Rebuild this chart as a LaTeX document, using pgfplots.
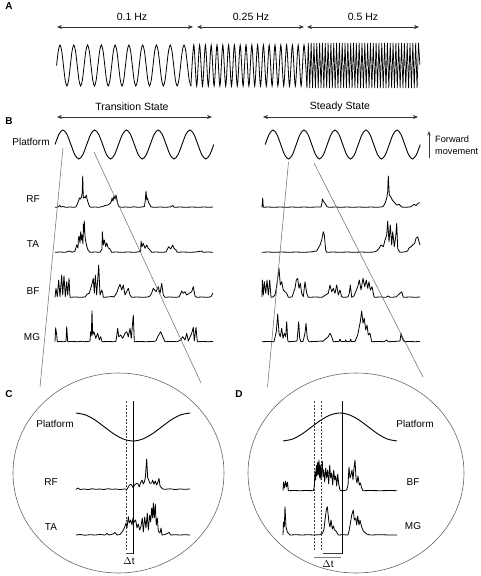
\documentclass[border=0pt]{standalone}
\usepackage{pgfplots}
\pgfplotsset{compat=1.18}
\usetikzlibrary{arrows.meta}
\usepackage{fontspec}
\setmainfont{Liberation Sans}
\begin{document}
\begin{tikzpicture}[
  txt/.style={font=\fontsize{10}{12}\selectfont, inner sep=0pt},
  big/.style={font=\fontsize{10.5}{12}\selectfont, inner sep=0pt},
  pan/.style={font=\fontsize{10}{12}\selectfont\bfseries, inner sep=0pt},
  dbl/.style={line width=0.6pt, black!80, {Stealth[length=5pt,width=4pt]}-{Stealth[length=5pt,width=4pt]}},
  emg/.style={black, line width=0.8pt, line join=round},
  zoomline/.style={black!60, line width=0.5pt},
  dsh/.style={black!75, line width=0.45pt, dash pattern=on 2pt off 1.5pt},
]
\begin{axis}[
  x=1pt, y=1pt, y dir=reverse,
  xmin=0, xmax=480, ymin=0, ymax=576,
  hide axis, clip=false, scale only axis,
]
\path (axis cs:0,0) rectangle (axis cs:480,576);

% ---------------- Panel A ----------------
\node[pan] at (axis cs:9,6) {A};
\node[big] at (axis cs:132,17) {0.1 Hz};
\node[big] at (axis cs:251,17) {0.25 Hz};
\node[big] at (axis cs:363,17) {0.5 Hz};
\draw[dbl] (axis cs:57,27) -- (axis cs:193,27);
\draw[dbl] (axis cs:197,27) -- (axis cs:304,27);
\draw[dbl] (axis cs:307,27) -- (axis cs:419,27);

\addplot[black, line width=0.8pt, smooth] coordinates {
(56.56,65.5)(58.28,51)(60.01,45)(61.73,51)(63.45,65.5)(65.17,80)(66.90,86)(68.62,80)
(70.34,65.5)(72.06,51)(73.79,45)(75.51,51)(77.23,65.5)(78.95,80)(80.68,86)(82.40,80)
(84.12,65.5)(85.84,51)(87.57,45)(89.29,51)(91.01,65.5)(92.73,80)(94.46,86)(96.18,80)
(97.90,65.5)(99.62,51)(101.35,45)(103.07,51)(104.79,65.5)(106.51,80)(108.24,86)(109.96,80)
(111.68,65.5)(113.40,51)(115.13,45)(116.85,51)(118.57,65.5)(120.29,80)(122.02,86)(123.74,80)
(125.46,65.5)(127.18,51)(128.91,45)(130.63,51)(132.35,65.5)(134.07,80)(135.80,86)(137.52,80)
(139.24,65.5)(140.96,51)(142.69,45)(144.41,51)(146.13,65.5)(147.85,80)(149.58,86)(151.30,80)
(153.02,65.5)(154.74,51)(156.47,45)(158.19,51)(159.91,65.5)(161.63,80)(163.36,86)(165.08,80)
(166.80,65.5)(168.52,51)(170.25,45)(171.97,51)(173.69,65.5)(175.41,80)(177.14,86)(178.86,80)
(180.58,65.5)(182.30,51)(184.03,45)(185.75,51)(187.47,65.5)(189.19,80)(190.92,86)
};
\addplot[black, line width=0.8pt, smooth] coordinates {
(190.9,86)(193.8,45)(196.7,86)(199.6,45)(202.5,86)(205.4,45)(208.3,86)(211.2,45)(214.1,86)(217.0,45)
(219.9,86)(222.8,45)(225.7,86)(228.6,45)(231.5,86)(234.4,45)(237.3,86)(240.2,45)(243.1,86)(246.0,45)
(248.9,86)(251.8,45)(254.7,86)(257.6,45)(260.5,86)(263.4,45)(266.3,86)(269.2,45)(272.1,86)(275.0,45)
(277.9,86)(280.8,45)(283.7,86)(286.6,45)(289.5,86)(292.4,45)(295.3,86)(298.2,45)(301.1,86)(304.0,45)
(306.9,86)
};
\addplot[black, line width=0.7pt] coordinates {
(306.90,88)(308.31,43)(309.73,88)(311.14,43)(312.55,88)(313.96,43)(315.38,88)(316.79,43)(318.20,88)(319.61,43)
(321.03,88)(322.44,43)(323.85,88)(325.26,43)(326.68,88)(328.09,43)(329.50,88)(330.91,43)(332.33,88)(333.74,43)
(335.15,88)(336.56,43)(337.98,88)(339.39,43)(340.80,88)(342.21,43)(343.63,88)(345.04,43)(346.45,88)(347.86,43)
(349.28,88)(350.69,43)(352.10,88)(353.51,43)(354.93,88)(356.34,43)(357.75,88)(359.16,43)(360.58,88)(361.99,43)
(363.40,88)(364.81,43)(366.23,88)(367.64,43)(369.05,88)(370.46,43)(371.88,88)(373.29,43)(374.70,88)(376.11,43)
(377.53,88)(378.94,43)(380.35,88)(381.76,43)(383.18,88)(384.59,43)(386.00,88)(387.41,43)(388.83,88)(390.24,43)
(391.65,88)(393.06,43)(394.48,88)(395.89,43)(397.30,88)(398.71,43)(400.13,88)(401.54,43)(402.95,88)(404.36,43)
(405.78,88)(407.19,43)(408.60,88)(410.01,43)(411.43,88)(412.84,43)(414.25,88)(415.66,43)(417.08,88)(418.49,43)
(419.90,65)
};

% ---------------- Panel B ----------------
\node[pan] at (axis cs:9,121) {B};
\node[big] at (axis cs:132,107) {Transition State};
\node[big] at (axis cs:340,107) {Steady State};
\draw[dbl] (axis cs:57,117) -- (axis cs:212,117);
\draw[dbl] (axis cs:263,117) -- (axis cs:418,117);
\node[txt] at (axis cs:31,142) {Platform};
\node[txt] at (axis cs:33,199) {RF};
\node[txt] at (axis cs:33,244) {TA};
\node[txt] at (axis cs:33,291) {BF};
\node[txt] at (axis cs:32,337) {MG};
\draw[black!75, line width=0.6pt, -{Stealth[length=4.5pt,width=3.5pt]}] (axis cs:429,158) -- (axis cs:429,131);
\node[font=\fontsize{9.2}{11}\selectfont, inner sep=0pt, anchor=west] at (axis cs:435,139) {Forward};
\node[font=\fontsize{9.2}{11}\selectfont, inner sep=0pt, anchor=west] at (axis cs:435,152) {movement};

% platform sines
\addplot[black, line width=0.9pt, smooth] coordinates {
(55.00,144.5)(58.97,134.25)(62.94,130)(66.91,134.25)(70.88,144.5)(74.84,154.75)(78.81,159)(82.78,154.75)
(86.75,144.5)(90.72,134.25)(94.69,130)(98.66,134.25)(102.63,144.5)(106.59,154.75)(110.56,159)(114.53,154.75)
(118.50,144.5)(122.47,134.25)(126.44,130)(130.41,134.25)(134.38,144.5)(138.34,154.75)(142.31,159)(146.28,154.75)
(150.25,144.5)(154.22,134.25)(158.19,130)(162.16,134.25)(166.13,144.5)(170.09,154.75)(174.06,159)(178.03,154.75)
(182.00,144.5)(185.97,134.25)(189.94,130)(193.91,134.25)(197.88,144.5)(201.84,154.75)(205.81,159)(209.78,154.75)
(213.75,144.5)
};
\addplot[black, line width=0.9pt, smooth] coordinates {
(265.25,144.5)(269.13,134.25)(273.00,130)(276.88,134.25)(280.75,144.5)(284.63,154.75)(288.50,159)(292.38,154.75)
(296.25,144.5)(300.13,134.25)(304.00,130)(307.88,134.25)(311.75,144.5)(315.63,154.75)(319.50,159)(323.38,154.75)
(327.25,144.5)(331.13,134.25)(335.00,130)(338.88,134.25)(342.75,144.5)(346.63,154.75)(350.50,159)(354.38,154.75)
(358.25,144.5)(362.13,134.25)(366.00,130)(369.88,134.25)(373.75,144.5)(377.63,154.75)(381.50,159)(385.38,154.75)
(389.25,144.5)(393.13,134.25)(397.00,130)(400.88,134.25)(404.75,144.5)(408.63,154.75)(412.50,159)(416.38,154.75)
(420.25,144.5)
};

% left RF
\addplot[emg] coordinates {
(55,207.3)(58,207)(60,205.5)(61,207)(63,206.5)(66,207.3)(70,207)(74,207.3)(76,206.8)(77.3,204)(78.5,201)(79.5,198)(80.5,199)(81.5,197)(82.2,193)(82.7,176)(83.3,198)(84.3,197)(85.3,198)(86.3,195)(87,199)(88.3,203)(89.5,206.5)(91,207.3)(95,207)(99,207.3)(102.7,206.5)(105,205.5)(108,205)(110,203.5)(111.5,201)(112,198)(113,201)(114,196)(115,199)(116,195)(117,200)(117.8,204)(119,206.8)(122,207.3)(126,207)(130,207.3)(134,206.8)(138,207.3)(142,207)(144.5,206.5)(145.3,200)(146,191)(146.8,200)(147.5,198)(148.5,202.5)(150,205)(151,207)(155,207.3)(160,207)(165,207.3)(170,207)(173,205.5)(174,207.3)(180,207)(186,207.3)(192,207)(198,207.3)(204,207)(209,207.3)(213,207)
};
% left TA
\addplot[emg] coordinates {
(55,252.3)(60,252)(65,252.3)(70,251)(72,252.3)(74,251.5)(75,251)(76.7,245)(78,248)(78.3,240)(79,236)(80,243)(80.7,231.7)(81.5,240)(82,235)(83,244)(83.3,224)(84,232)(84.3,221)(85,236)(85.5,240)(86.7,246)(88,250)(90,252.3)(95,252)(100,252.3)(102,249)(102.3,231.7)(103.3,245)(104.3,240)(105.7,246.7)(106.7,243)(108.3,248)(110,249)(111.7,252.3)(116,252)(122,252.3)(128,252)(134,252.3)(138,252)(140.7,251)(141,241)(142,246.7)(143.3,243.3)(145,248.3)(146.7,245)(148.3,248.3)(150,250)(151.7,252.3)(156,252)(162,252.3)(166,252)(168.7,246.7)(170.7,249)(172.7,245)(174,248.3)(176,250)(177.3,252.3)(183,252)(190,252.3)(196,252)(201.7,251)(203,252.3)(208,252)(213,252.3)
};
% left BF
\addplot[emg] coordinates {
(55,297.3)(56,288.3)(57.3,296.7)(58.7,280)(60,296.7)(61.7,275)(62.7,295)(64,275.7)(65.3,296.7)(66.7,281.7)(67.7,295)(69,278.3)(70,297.3)(75,297)(80,297.3)(85,297)(87.3,294)(89.3,293.3)(91.7,285)(93.3,278.3)(94.3,293.3)(95.3,275)(96.7,295)(97,290)(98.7,265)(100,295)(101.7,290)(102.7,293)(103.3,297.3)(108,297)(112,296.5)(114,297)(116.7,293)(118.3,288.3)(120,284.3)(121.7,290)(123.3,285)(125,295)(126.7,291.7)(128.3,288.3)(130,295)(131.7,297.3)(137,297)(143,297.3)(148,297)(150,296)(151.7,293)(153.3,288.3)(156,291.7)(158.3,286.7)(160,293.3)(161.7,283.3)(163.3,295)(165,297.3)(170,297)(175,297.3)(179,297)(180,295)(181.7,291)(183.3,293.3)(185,291.7)(186.7,295)(189.3,293.3)(191.7,291.7)(193.3,286.7)(195,296)(196.7,297.3)(202,297)(207,297.3)(210,297)(211.5,296)(212.7,293)
};
% left MG
\addplot[emg] coordinates {
(55,341.7)(55.7,327.7)(56.7,335)(57.3,341.7)(60,341.5)(63,341.7)(66,341.5)(66.7,326.7)(67.7,341.7)(72,341.5)(78,341.7)(83,341.2)(84,341.7)(88,341.5)(90,341)(90.7,331.7)(91.3,336)(92,310.7)(92.7,335)(94,331.7)(95.7,338.3)(97.7,333.3)(99.3,340)(100.7,336.7)(102,341.7)(108,341.5)(114,341.7)(116,341.2)(117.7,328.3)(118.7,336.7)(120.7,335)(122.7,338.3)(125,333.3)(126.7,331.7)(128.3,336.7)(130,328.3)(131.3,338.3)(133.3,315)(134.3,341.7)(140,341.5)(146,341.7)(152,341.5)(156,341)(157,338.3)(158.3,335.7)(160.7,331.7)(162.7,336.7)(165,341.7)(171,341.5)(177,341.7)(180.7,340)(182.7,336.7)(185,340)(186.7,333.3)(188.3,341)(191.7,333.3)(193.3,327.3)(194.3,341)(196,327.3)(197.3,341.7)(203,341.5)(208,341.7)(213,341.5)
};
% right RF
\addplot[emg] coordinates {
(262,207.3)(262.7,198)(263.3,207.3)(268,207)(274,207.3)(280,207)(286,207.3)(292,207)(298,207.3)(304,207)(310,207.3)(316,207)(321,207)(322,203)(322.3,199)(323.7,201.7)(325,203.3)(327,206.7)(329,207.3)(335,207)(341,207.3)(347,207)(353,207.3)(359,207)(365,207.3)(371,207)(377,207.3)(383,206.7)(385,203.3)(386.7,198.3)(387.7,191.7)(388.3,176)(389.3,195)(390.7,196.7)(392.3,200)(394.3,202.3)(396.7,205)(399,204.3)(401.7,207)(405,207.3)(410,207)(412,206)(414,204.3)(416,205.5)(418,203.3)(420,202.7)
};
% right TA
\addplot[emg] coordinates {
(262,252.3)(268,252)(275,252.3)(282,252)(289,252.3)(296,252)(303,252.3)(310,252)(316.7,251)(320,245)(321.7,240)(323.3,231.7)(324.3,235)(325.7,250)(326.7,252.3)(333,252)(340,252.3)(347,252)(354,252.3)(361,252)(368,252.3)(374,252)(376.7,251)(379,248.3)(381,245)(383.3,246.7)(385,240)(386.7,235)(387.7,221)(389,241.7)(390.3,225)(391.7,245)(392.7,231.7)(394.3,246.7)(395.7,236.7)(396.7,223.3)(397.7,248.3)(399,251)(400,252.3)(404,252)(407.7,251)(408.7,248.3)(411,246.7)(412.7,245)(414.7,243.3)(416,238.3)(417.7,236.7)(419,241.7)(420,245)
};
% right BF
\addplot[emg] coordinates {
(262,297)(262.3,280)(263.3,295)(264.3,281.7)(265.7,293.3)(267,280)(268.3,295)(269.7,280)(271,297.3)(273,297)(275,295)(276.3,288.3)(277.7,278.3)(279,268.3)(280.3,285)(281.7,281.7)(283.3,290)(285,291.7)(286.7,293.3)(288.3,297.3)(292,297)(295,288.3)(296.3,280)(297.7,278.3)(299,288.3)(300.3,283.3)(301.7,293.3)(303.3,296.7)(305,281.7)(306.7,293.3)(308.3,297.3)(315,297)(322,297.3)(328.3,293.3)(330,285)(331.7,291.7)(333.3,288.3)(335,293.3)(336.7,285)(338.3,295)(340,290)(341.7,296.7)(343.3,297.3)(348,297)(349.3,293.3)(350.3,285)(351.7,297.3)(354,296)(355.7,291.7)(357.7,286.7)(359.3,280)(361,290)(363,278.3)(364.7,286.7)(366.3,280)(367.7,288.3)(369,281.7)(370.3,290)(372,286.7)(373.7,295)(374.3,297.3)(380,297)(386,297.3)(388.3,296)(390,297.3)(396,297)(401.7,291.7)(403.3,297.3)(410,297)(415,297.3)(420,297)
};
% right MG
\addplot[emg] coordinates {
(262,341.7)(268,341.5)(274,341.7)(276.3,331.7)(277.7,314)(279,333.3)(280.3,336.7)(281.7,328.3)(283,338.3)(284.3,333.3)(285.7,336.7)(286.7,321.7)(287.7,340)(288.3,341.7)(293,341.5)(297,341)(297.7,333.3)(298.7,321.7)(299.7,338.3)(301,341.7)(303,341.5)(305,333.3)(306,323.3)(307.3,338.3)(309,341.7)(315,341.5)(321.7,341)(322.3,341.7)(328.3,336.7)(330,333.3)(331.7,336.7)(333.3,341.7)(339,341.5)(340,339)(341,341.7)(345,341.5)(345.7,340)(346.5,341.7)(350,341.5)(350.7,339)(351.5,341.7)(355,341.5)(357.7,335)(359,328.3)(360.3,321.7)(361.7,311)(363,323.3)(364.3,318.3)(365.7,330)(367,325)(368.3,335)(370,333.3)(371.7,341.7)(378,341.5)(384,341.7)(386.7,340)(388,341.7)(394,341.5)(400,341)(401,333.3)(402.3,338.3)(404.3,341.7)(410,341.5)(415,341.7)(420,341.5)
};

% zoom lines
\addplot[zoomline] coordinates {(63,148)(40,387)};
\addplot[zoomline] coordinates {(94,152)(201,383)};
\addplot[zoomline] coordinates {(288.5,162)(267.5,387)};
\addplot[zoomline] coordinates {(314,163)(423,377)};

% ---------------- Panel C ----------------
\node[pan] at (axis cs:9,394) {C};
\draw[black!60, line width=0.6pt] (axis cs:118.5,473) ellipse [x radius=105.5pt, y radius=100pt];
\node[txt] at (axis cs:55,424) {Platform};
\node[txt] at (axis cs:51,482) {RF};
\node[txt] at (axis cs:51,527) {TA};
\node[txt] at (axis cs:129,561) {$\Delta$t};
\addplot[black, line width=0.9pt, smooth] coordinates {
(76,413)(85.5,414.9)(95,420)(104.5,427)(114,434)(123.5,439.1)(133,441)(142.5,439.1)(152,434)(161.5,427)(171,420)(180.5,414.9)(190,413)
};
\addplot[dsh] coordinates {(126,401)(126,550)};
\addplot[black, line width=0.6pt] coordinates {(133,401)(133,554)};
\addplot[black!70, line width=0.6pt] coordinates {(126,553.5)(133,553.5)};
\addplot[emg] coordinates {
(76,489.3)(78,488)(80,489.5)(84,489)(88,489.6)(92,488.8)(96,489.3)(100,489)(104,489.5)(108,488.7)(112,489.3)(116,489)(120,489.6)(124,489)(127,489.3)(128.3,487)(129.5,485)(131,484.3)(132.3,486)(133.3,488)(134.5,485)(136.7,483.3)(138,484)(139.3,486.7)(140.5,483)(142,480)(143.3,484)(144.3,482)(145.3,478)(146.7,459)(147.7,478)(148.7,480)(150,483.3)(151.7,483)(152.7,480)(154,484.3)(155.3,481)(156.7,485)(158,482)(159,478.3)(160,486)(161.7,488)(163,489)(165,489.3)(170,488.8)(175,489.5)(180,489)(185,489.3)(190,489)
};
\addplot[emg] coordinates {
(76,535)(80,534.5)(85,535.2)(90,534.7)(95,535)(100,534.5)(105,535)(107,533.5)(109,535)(113,534)(115,532.5)(117,535)(120,534.5)(122,532)(123.3,530)(124.7,527)(126,523)(127,528)(128.3,516.7)(129.3,523)(130.7,520)(132,525)(133,518)(134.3,522)(135.7,520)(137,528)(138.3,524)(139.7,530)(141,526)(142.3,518)(143.3,532)(144.7,517)(146,528)(147.3,513)(148.3,530)(149.7,515)(150.7,522)(151.7,508)(152.7,518)(153.3,503)(154.3,518)(155.3,504)(156.3,525)(157.3,518)(158.3,531)(160,533)(161,528)(162,535)(165,534.5)(169,532.5)(171,535)(175,534.7)(180,535)(185,534.7)(190,535)
};

% ---------------- Panel D ----------------
\node[pan] at (axis cs:239,394) {D};
\draw[black!60, line width=0.6pt] (axis cs:356,473) ellipse [x radius=108pt, y radius=100pt];
\node[txt] at (axis cs:415,424) {Platform};
\node[txt] at (axis cs:413,482) {BF};
\node[txt] at (axis cs:413,526) {MG};
\node[txt] at (axis cs:328,564) {$\Delta$t};
\addplot[black, line width=0.9pt, smooth] coordinates {
(283,441)(292.5,439.1)(302,434)(311.5,427)(321,420)(330.5,414.9)(340,413)(349.5,414.9)(359,420)(368.5,427)(378,434)(387.5,439.1)(397,441)
};
\addplot[dsh] coordinates {(314,401)(314,550)};
\addplot[dsh] coordinates {(321,401)(321,550)};
\addplot[black, line width=0.6pt] coordinates {(342,401)(342,554)};
\addplot[black!75, line width=0.6pt] coordinates {(322.7,553)(341.7,553)};
\addplot[black!50, line width=0.6pt] coordinates {(314,557.7)(340.7,557.7)};
\addplot[emg] coordinates {
(283,490.7)(283.5,482)(284.5,488)(285.5,481)(286.5,487)(287.5,482)(288.3,490.7)(293,490.5)(300,490.7)(307,490.5)(313.3,490.7)(314.3,487)(315,472)(315.7,480)(316.3,465)(317,476)(317.7,462)(318.3,475)(319,460)(319.7,478)(320.3,465)(321,480)(321.7,470)(322.3,461)(323,477)(323.7,470)(324.7,482)(325.7,468)(326.7,478)(327.7,470)(328.7,484)(329.7,465)(330.7,478)(331.7,473)(332.7,485)(333.7,470)(334.7,480)(335.7,476)(336.7,486)(337.7,474)(338.7,484)(339.7,489)(340.5,490.7)(344,490.5)(346.7,490)(348,485)(349,467)(350,478)(351,475)(352,470)(353,480)(354,468)(355,460)(356,478)(357,483)(358,476)(359.3,485)(360.3,483)(361.7,488)(363,490.7)(370,490.5)(380,490.7)(390,490.5)(397,490.7)
};
\addplot[emg] coordinates {
(283,535)(283.5,522)(284.3,527)(285,506.7)(286,526.7)(287.3,532)(290,535)(296,534.7)(302,535)(308,534.7)(314,535)(320,534.7)(322.7,533)(324,529)(325,520)(326.3,510)(327.3,506.7)(328.3,516)(329,523)(330,527)(331,520)(332.3,529)(333.5,526)(334.5,530)(336,531)(338.3,535)(343,534.7)(348,535)(349,531)(350.3,524)(351.7,515)(353.3,510)(354.3,520)(355.7,518)(356.7,525)(357.7,516)(359,525)(360,520)(361.7,527)(363.3,531)(366.7,534)(370,535)(380,534.7)(390,535)(397,535)
};
\end{axis}
\end{tikzpicture}
\end{document}
